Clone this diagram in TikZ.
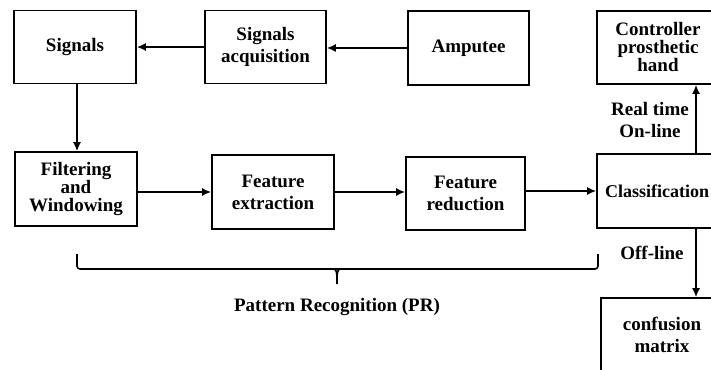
\documentclass[tikz,border=0pt]{standalone}
\usepackage{fontspec}
\setmainfont{Liberation Serif}
\usetikzlibrary{arrows.meta}
\usetikzlibrary{positioning}

\tikzset{
  block/.style={draw=black, line width=1.6pt, minimum width=122pt, minimum height=73pt,
    align=center, inner sep=2pt, font=\bfseries\fontsize{19}{22}\selectfont},
  flow/.style={line width=1.6pt, -{Latex[length=9pt,width=8pt]}},
  tag/.style={align=center, font=\bfseries\fontsize{19}{21}\selectfont},
  prbrace/.style={line width=1.6pt, rounded corners=3pt},
}

\begin{document}
\begin{tikzpicture}[x=1pt, y=-1pt]
\clip (0,0) rectangle (711,369);
% top row
\node[block] (signals) at (75,47) {Signals};
\node[block, minimum width=121pt] (acquisition) at (265.5,47) {Signals\\acquisition};
\node[block, minimum width=121pt, minimum height=74pt] (amputee) at (468.5,48) {Amputee};
\node[block, font=\bfseries\fontsize{19}{18}\selectfont] (controller) at (658,47.5) {Controller\\prosthetic\\hand};
% middle row
\node[block, minimum height=74pt, font=\bfseries\fontsize{19}{18}\selectfont] (filtering) at (76,189) {Filtering\\and\\Windowing};
\node[block, minimum height=74pt] (extraction) at (273,192) {Feature\\extraction};
\node[block, minimum width=119pt] (reduction) at (465.5,193.5) {Feature\\reduction};
\node[block, minimum height=74pt, text width=106pt, align=left, font=\bfseries\fontsize{18}{22}\selectfont] (classification) at (658,191) {Classification};
% bottom
\node[block] (confusion) at (662,334.5) {confusion\\matrix};

\draw[flow] (amputee.west) -- (amputee.west -| acquisition.east);
\draw[flow] (acquisition.west) -- (acquisition.west -| signals.east);
\draw[flow] ([xshift=2pt]signals.south) -- ([xshift=1pt]filtering.north);
\draw[flow] (filtering.east |- extraction.west) -- (extraction.west);
\draw[flow] (extraction.east) -- (extraction.east -| reduction.west);
\draw[flow] (reduction.east |- classification.west) -- (classification.west);
\draw[flow] ([xshift=38pt]classification.north) -- ([xshift=38pt]controller.south);
\draw[flow] ([xshift=38pt]classification.south) -- ([xshift=34pt]confusion.north);

\node[tag] (online) at (650,120) {Real time\\On-line};
\node[tag] (offline) at (652,253) {Off-line};

% brace under the PR blocks
\coordinate (prleft) at (77,254);
\coordinate (prtip) at (337,284);
\coordinate (prright) at (598,254);
\draw[prbrace] (prleft) |- (prright |- 0,269) -- (prright);
\draw[line width=1.6pt] (331,269) .. controls (336,269) .. (prtip |- 0,276) -- (prtip);
\draw[line width=1.6pt] (343,269) .. controls (338,269) .. (prtip |- 0,276);
\node[tag] (pr) at (337,307) {Pattern Recognition (PR)};
\end{tikzpicture}
\end{document}
